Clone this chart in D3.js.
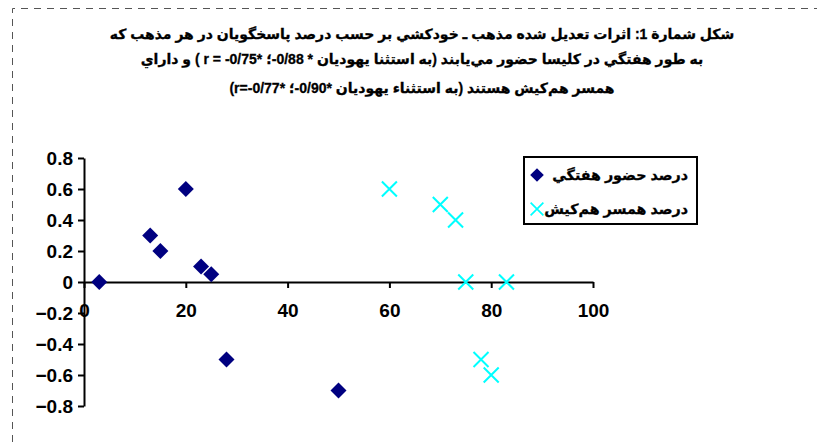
<!DOCTYPE html>
<html>
<head>
<meta charset="utf-8">
<script src="https://cdn.jsdelivr.net/npm/d3@7"></script>
<style>
  body { margin: 0; background: #fff; }
</style>
</head>
<body>
<div id="chart"></div>
<script>
// Title lines (RTL)
var titleLines = [
    "شكل شمارة 1: اثرات تعديل شده مذهب ـ خودكشي بر حسب درصد پاسخگويان در هر مذهب كه",
    "به طور هفتگي در كليسا حضور مي‌يابند (به استثنا يهوديان * 0/88-؛ *0/75- = r ) و داراي",
    "همسر هم‌كيش هستند (به استثناء يهوديان *0/90-؛ *0/77-=r)"
];

// series names
var seriesNames = ["درصد حضور هفتگي", "درصد همسر هم‌كيش"];

// weekly attendance series
var attendX = [3, 13, 15, 20, 23, 25, 28, 50];
var attendY = [0, 0.3, 0.2, 0.6, 0.1, 0.05, -0.5, -0.7];

// same-faith spouse series
var spouseX = [60, 70, 73, 75, 83, 78, 80];
var spouseY = [0.6, 0.5, 0.4, 0, 0, -0.5, -0.6];

var xTicks = [0, 20, 40, 60, 80, 100];
var yTicks = [-0.8, -0.6, -0.4, -0.2, 0, 0.2, 0.4, 0.6, 0.8];

var W = 817, H = 442;
var FONT = "Arial, 'Liberation Sans', 'DejaVu Sans', sans-serif";

var svg = d3.select("#chart")
    .append("svg")
        .attr("width", W)
        .attr("height", H);

// dashed frame (top + left only visible)
svg.append("path")
    .attr("d", "M12.5,442 L12.5,8.5 L817,8.5")
    .attr("fill", "none")
    .attr("stroke", "#555")
    .attr("stroke-width", 1)
    .attr("stroke-dasharray", "7,6");

// title
var titleGroup = svg.append("g");
var titleY = [39, 64, 93];
titleLines.forEach(function(t, i) {
    titleGroup.append("text")
        .attr("x", 422)
        .attr("y", titleY[i])
        .attr("direction", "rtl")
        .attr("text-anchor", "middle")
        .attr("stroke", "#000")
        .attr("stroke-width", 0.3)
        .style("font-family", FONT)
        .style("font-weight", "bold")
        .style("font-size", "13px")
        .text(t);
});
// fit first line width to ~625px
var w0 = titleGroup.select("text").node().getComputedTextLength();
var fs = 13 * 625 / w0;
titleGroup.selectAll("text").style("font-size", fs + "px");

// scales
var x = d3.scaleLinear().domain([0, 100]).range([84, 593]);
var y = d3.scaleLinear().domain([-0.8, 0.8]).range([406, 158]);

// y axis
var yAxis = svg.append("g")
    .attr("transform", `translate(${x(0)},0)`)
    .call(d3.axisLeft(y).tickValues(yTicks).tickSize(6).tickSizeOuter(0)
        .tickFormat(d => d === 0 ? "0" : d3.format(".1f")(d)));

// x axis on zero line
var xAxis = svg.append("g")
    .attr("transform", `translate(0,${y(0)})`)
    .call(d3.axisBottom(x).tickValues(xTicks).tickSize(6).tickSizeOuter(0));

[xAxis, yAxis].forEach(function(a) {
    a.select(".domain").attr("stroke", "#000").attr("stroke-width", 2);
    a.selectAll(".tick line").attr("stroke", "#000").attr("stroke-width", 2);
    a.selectAll(".tick text")
        .attr("fill", "#000")
        .style("font-family", FONT)
        .style("font-weight", "bold")
        .style("font-size", "19px");
});
yAxis.selectAll(".tick text").attr("x", -11).attr("dy", "0.35em");
xAxis.selectAll(".tick text").attr("y", 22);

// diamond markers
var diamond = "M0,-8 L8,0 L0,8 L-8,0 Z";
svg.append("g").selectAll("path")
    .data(attendX)
    .enter()
    .append("path")
    .attr("d", diamond)
    .attr("fill", "#000080")
    .attr("transform", (d, i) => `translate(${x(d)},${y(attendY[i])})`);

// cross markers
var cross = "M-7.5,-7.5 L7.5,7.5 M-7.5,7.5 L7.5,-7.5";
svg.append("g").selectAll("path")
    .data(spouseX)
    .enter()
    .append("path")
    .attr("d", cross)
    .attr("fill", "none")
    .attr("stroke", "#00FFFF")
    .attr("stroke-width", 2)
    .attr("transform", (d, i) => `translate(${x(d)},${y(spouseY[i])})`);

// legend
var legend = svg.append("g");
legend.append("rect")
    .attr("x", 524)
    .attr("y", 157)
    .attr("width", 173)
    .attr("height", 67)
    .attr("fill", "#fff")
    .attr("stroke", "#000")
    .attr("stroke-width", 2);

var rowY = [175, 209];
legend.append("path")
    .attr("d", diamond)
    .attr("fill", "#000080")
    .attr("transform", `translate(537,${rowY[0]}) scale(0.85)`);
legend.append("path")
    .attr("d", cross)
    .attr("fill", "none")
    .attr("stroke", "#00FFFF")
    .attr("stroke-width", 2)
    .attr("transform", `translate(537,${rowY[1]}) scale(0.85)`);

var legendTexts = seriesNames.map(function(n, i) {
    return legend.append("text")
        .attr("x", 688)
        .attr("y", rowY[i] + 5)
        .attr("direction", "rtl")
        .attr("text-anchor", "start")
        .attr("stroke", "#000")
        .attr("stroke-width", 0.3)
        .style("font-family", FONT)
        .style("font-weight", "bold")
        .style("font-size", "15px")
        .text(n);
});
// fit first legend label to ~136px
var lw = legendTexts[0].node().getComputedTextLength();
var lfs = 15 * 136 / lw;
legendTexts.forEach(t => t.style("font-size", lfs + "px"));
</script>
</body>
</html>
